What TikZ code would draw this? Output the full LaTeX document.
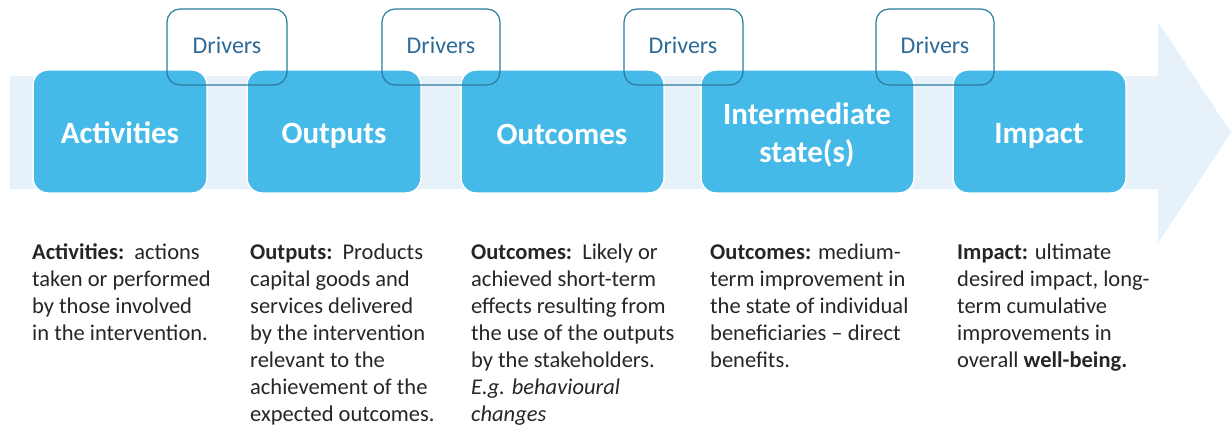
\documentclass[tikz,border=0pt]{standalone}
\usepackage{fontspec}
\setmainfont{Carlito}
\definecolor{arrowbg}{HTML}{E6F1FA}
\definecolor{boxblue}{HTML}{45B9E8}
\definecolor{drvline}{HTML}{2A7C9E}
\definecolor{drvtext}{HTML}{2F6A96}
\definecolor{bodytext}{HTML}{262626}
\tikzset{
  stagebox/.style={fill=boxblue, draw=white, line width=1.5pt, rounded corners=15pt},
  stagelabel/.style={text=white, font=\fontsize{31}{38}\selectfont\bfseries, anchor=base, inner sep=0},
  driverbox/.style={draw=drvline, line width=1.2pt, rounded corners=13pt},
  driverlabel/.style={text=drvtext, font=\fontsize{24}{28}\selectfont, anchor=base, inner sep=0},
  desc/.style={text=bodytext, anchor=base west, inner sep=0},
}
\newcommand{\desctext}[1]{\parbox[t]{300pt}{\raggedright\fontsize{22.5}{27}\selectfont #1}}
\begin{document}
\begin{tikzpicture}[x=1pt,y=-1pt]
\useasboundingbox (0,0) rectangle (1231,428);
% big arrow
\fill[arrowbg] (10,76) -- (1158,76) -- (1158,22) -- (1231,132.5) -- (1158,243) -- (1158,189) -- (10,189) -- cycle;
% stage boxes
\path[stagebox] (33,70) rectangle (207,193);
\path[stagebox] (247,70) rectangle (421,193);
\path[stagebox] (461,70) rectangle (664,193);
\path[stagebox] (701,70) rectangle (914,193);
\path[stagebox] (953,70) rectangle (1126,193);
\node[stagelabel] (act) at (120,143) {Activities};
\node[stagelabel] (out) at (334,143) {Outputs};
\node[stagelabel] (outc) at (562,144) {Outcomes};
\node[stagelabel] (inter) at (807,124) {\parbox[t]{200pt}{\centering\fontsize{31}{38}\selectfont\bfseries Intermediate\\state(s)}};
\node[stagelabel] (imp) at (1039,143) {Impact};
% driver boxes
\draw[driverbox] (167,9) rectangle (287,85);
\draw[driverbox] (382,9) rectangle (500,85);
\draw[driverbox] (624,9) rectangle (743,85);
\draw[driverbox] (876,9) rectangle (994,85);
\node[driverlabel] (d1) at (227,54) {Drivers};
\node[driverlabel] (d2) at (441,54) {Drivers};
\node[driverlabel] (d3) at (683,54) {Drivers};
\node[driverlabel] (d4) at (935,54) {Drivers};
% descriptions
\node[desc] (t1) at (32,259) {\desctext{\textbf{Activities:}\ \ actions\\taken or performed\\by those involved\\in the intervention.}};
\node[desc] (t2) at (250,259) {\desctext{\textbf{Outputs:}\ \ Products\\capital goods and\\services delivered\\by the intervention\\relevant to the\\achievement of the\\expected outcomes.}};
\node[desc] (t3) at (471,259) {\desctext{\textbf{Outcomes:}\ \ Likely or\\achieved short-term\\effects resulting from\\the use of the outputs\\by the stakeholders.\\\textit{E.g. behavioural}\\\textit{changes}}};
\node[desc] (t4) at (710,259) {\desctext{\textbf{Outcomes:} medium-\\term improvement in\\the state of individual\\beneficiaries -- direct\\benefits.}};
\node[desc] (t5) at (957,259) {\desctext{\textbf{Impact:} ultimate\\desired impact, long-\\term cumulative\\improvements in\\overall \textbf{well-being.}}};
\end{tikzpicture}
\end{document}
